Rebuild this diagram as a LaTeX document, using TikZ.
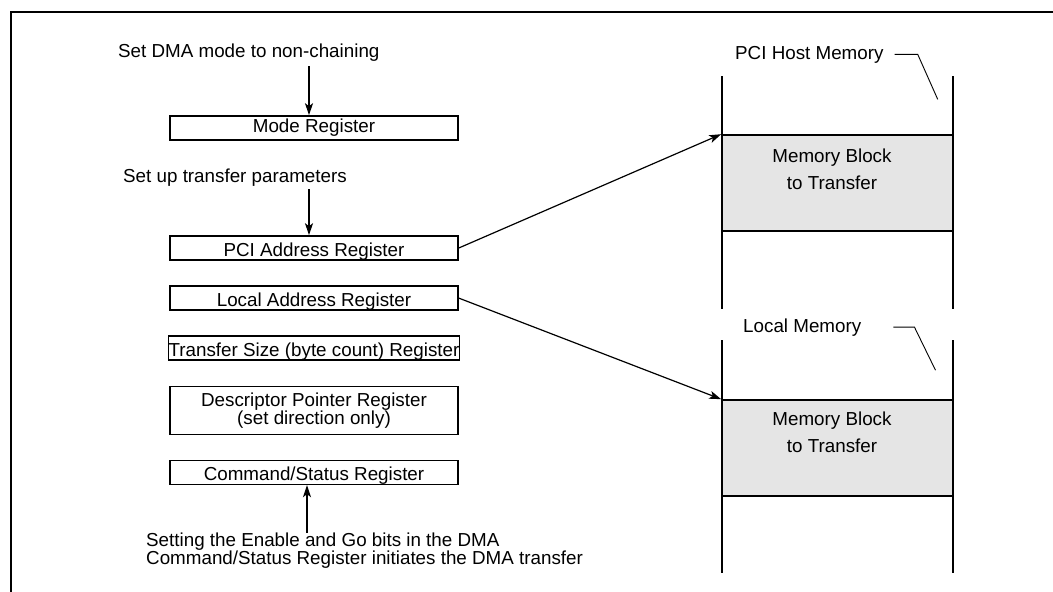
\documentclass[tikz,border=0pt]{standalone}
\usepackage{fontspec}
\setmainfont{Liberation Sans}
\usetikzlibrary{positioning,arrows.meta}

\begin{document}
\begin{tikzpicture}[x=1pt,y=-1pt,
    reg/.style = {draw, line width=1.6pt, minimum width=288pt, minimum height=24pt, inner sep=0pt, text height=17pt, text depth=0pt},
    note/.style = {inner sep=0pt, align=left},
    memblk/.style = {draw, line width=1.6pt, fill=gray!20, minimum width=231pt, minimum height=96pt, inner sep=0pt},
    memtxt/.style = {inner sep=0pt, align=center, font=\fontsize{18.8}{27}\selectfont},
    wall/.style = {line width=2.4pt},
    arr/.style = {-{Stealth[length=12pt,width=8pt,inset=3pt]}, line width=1.2pt},
    leader/.style = {line width=0.9pt},
    node distance={24.5pt},
    font=\fontsize{18.8}{18}\selectfont]
\useasboundingbox (0,0) rectangle (1053,592);
% frame
\draw[line width=2pt] (11,592) -- (11,12) -- (1053,12);

% registers
\node[reg, text height=13.7pt, text depth=4pt] (mode) at (314,128) {Mode Register};
\node[reg] (pci) at (314,248) {PCI Address Register};
\node[reg] (local) [below=of pci] {Local Address Register};
\node[reg] (size) [below=of local] {Transfer Size (byte count) Register};
\node[reg, minimum height=48pt, align=center, text height=, text depth=] (desc) [below=of size] {Descriptor Pointer Register\\(set direction only)};
\node[reg] (cmd) [below=of desc] {Command/Status Register};

% notes
\node[note, anchor=base west] (setdma) at (118,57) {Set DMA mode to non-chaining};
\node[note, anchor=base west] (setup) at (123,182) {Set up transfer parameters};
\node[note, anchor=north west] (enable) at (146,533) {Setting the Enable and Go bits in the DMA\\Command/Status Register initiates the DMA transfer};

% PCI host memory
\node[memblk] (hostblk) at (837.5,183) {};
\node[memtxt] (hosttxt) at (832,169.5) {Memory Block\\to Transfer};
\draw[wall] (722,76) -- (722,309);
\draw[wall] (953,76) -- (953,309);
\node[note, anchor=base west] (hostlbl) at (735,59) {PCI Host Memory};
\draw[leader] ([xshift=11pt]hostlbl.east) -- ++(23,0) -- ++(20,45);

% local memory
\node[memblk] (localblk) at (837.5,448) {};
\node[memtxt] (localtxt) at (832,432.5) {Memory Block\\to Transfer};
\draw[wall] (722,340) -- (722,573);
\draw[wall] (953,340) -- (953,573);
\node[note, anchor=base west] (locallbl) at (743,332) {Local Memory};
\draw[leader] ([xshift=32pt]locallbl.east) -- ++(21,0) -- ++(21,43);

% arrows
\draw[arr] (pci.east) -- (hostblk.north west);
\draw[arr] (local.east) -- (localblk.north west);
\draw[arr, shorten <=5pt] ([xshift=-5pt]mode.north |- setdma.south) -- ([xshift=-5pt]mode.north);
\draw[arr, shorten <=3pt] ([xshift=-5pt]pci.north |- setup.south) -- ([xshift=-5pt]pci.north);
\draw[arr] ([xshift=-7pt]cmd.south |- enable.north) -- ([xshift=-7pt]cmd.south);
\end{tikzpicture}
\end{document}
